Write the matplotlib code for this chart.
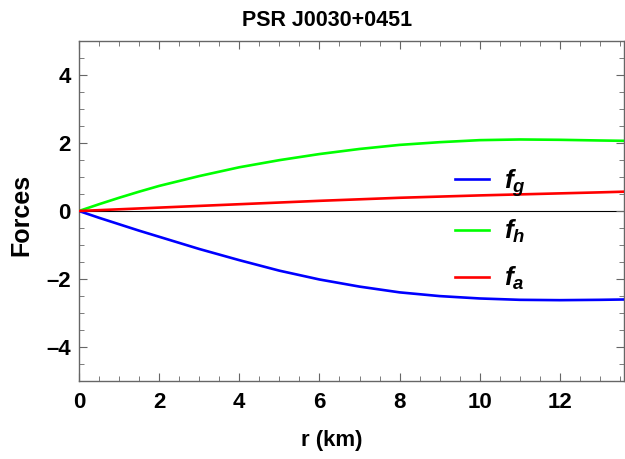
import matplotlib.pyplot as plt
from matplotlib.ticker import MultipleLocator

plt.rcParams['font.family'] = 'Liberation Sans'
plt.rcParams['font.weight'] = 'bold'
plt.rcParams['mathtext.fontset'] = 'custom'
plt.rcParams['mathtext.it'] = 'Liberation Sans:italic:bold'
plt.rcParams['mathtext.rm'] = 'Liberation Sans:bold'

# values
r = [0, 0.5, 1, 1.5, 2, 3, 4, 5, 6, 7, 8, 9, 10, 11, 12, 13, 13.6]
f_g = [0, -0.2, -0.39, -0.58, -0.76, -1.12, -1.45, -1.76, -2.02, -2.23,
       -2.4, -2.51, -2.58, -2.62, -2.63, -2.62, -2.61]
f_h = [0, 0.2, 0.39, 0.57, 0.74, 1.03, 1.29, 1.5, 1.68, 1.83,
       1.95, 2.03, 2.09, 2.11, 2.1, 2.08, 2.07]
f_a = [0, 0.025, 0.05, 0.075, 0.1, 0.15, 0.2, 0.25, 0.3, 0.345,
       0.39, 0.425, 0.46, 0.49, 0.52, 0.55, 0.57]
y_ticks = [-4, -2, 0, 2, 4]
y_labels = ['\u20134', '\u20132', '0', '2', '4']

fig = plt.figure(figsize=(6.25, 4.59), dpi=100)
ax = fig.add_axes([0.1264, 0.171, 0.872, 0.7386])

ax.axhline(0, color='black', lw=0.8, zorder=1)
ax.plot(r, f_g, color='#0000ff', lw=1.9, label=r'$f_g$', zorder=3)
ax.plot(r, f_h, color='#00ff00', lw=1.9, label=r'$f_h$', zorder=3)
ax.plot(r, f_a, color='#ff0000', lw=1.9, label=r'$f_a$', zorder=3)

ax.set_xlim(0, 13.6)
ax.set_ylim(-5, 5)
ax.xaxis.set_major_locator(MultipleLocator(2))
ax.xaxis.set_minor_locator(MultipleLocator(0.5))
ax.yaxis.set_minor_locator(MultipleLocator(0.5))
ax.set_yticks(y_ticks)
ax.set_yticklabels(y_labels)

for s in ax.spines.values():
    s.set_color('#666666')
    s.set_linewidth(1.0)
ax.tick_params(which='both', direction='in', top=True, right=True,
               color='#666666', labelsize=16)
ax.tick_params(axis='y', pad=6)
ax.tick_params(axis='x', pad=8)
ax.tick_params(which='major', length=6)
ax.tick_params(which='minor', length=3.5)

fig.text(327 / 625, 1 - 20 / 459, 'PSR J0030+0451', fontsize=15.5,
         fontweight='bold', ha='center', va='center')
ax.set_xlabel('r (km)', fontsize=16, fontweight='bold')
ax.xaxis.set_label_coords((332 - 79) / 545, -(440 - 380.5) / 339)
ax.xaxis.label.set_va('center')
ax.set_ylabel('Forces', fontsize=18, fontweight='bold')
ax.yaxis.set_label_coords(-(79 - 21) / 545, (380.5 - 215) / 339)
ax.yaxis.label.set_va('center')

ax.legend(loc='center left', bbox_to_anchor=(0.646, 0.445), frameon=False,
          fontsize=19, handlelength=1.3, handletextpad=0.55, labelspacing=0.75)

fig.savefig('out.png', dpi=100)
